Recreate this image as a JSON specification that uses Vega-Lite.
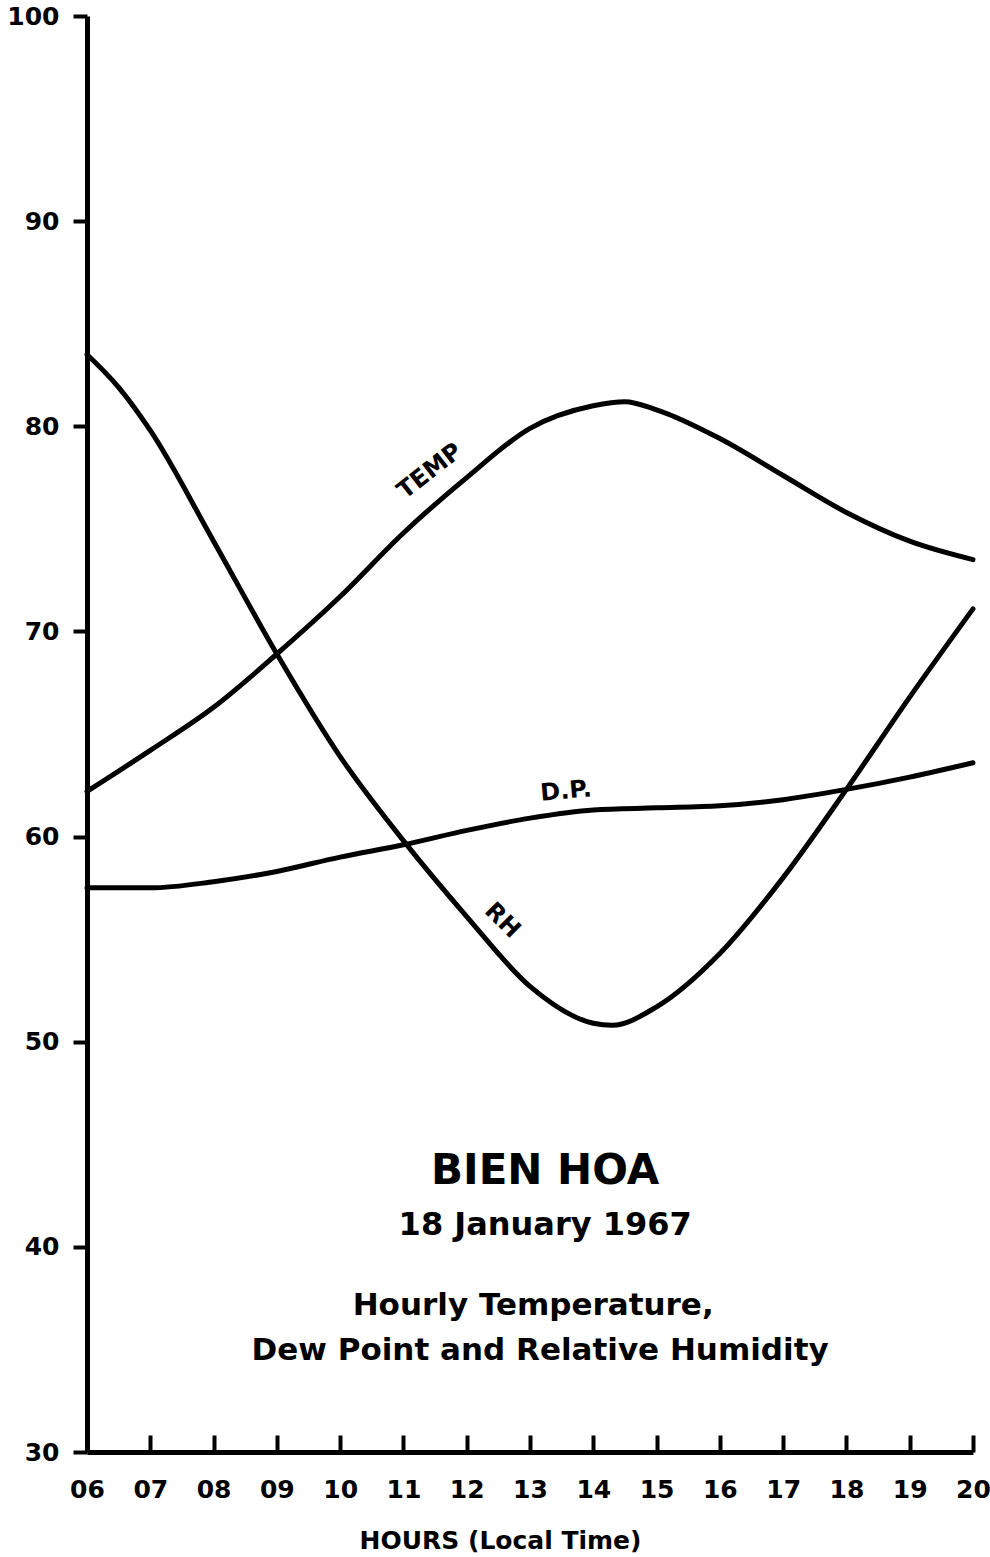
{
  "$schema": "https://vega.github.io/schema/vega-lite/v6.json",
  "width": 886,
  "height": 1436,
  "autosize": {"type": "none"},
  "padding": {"left": 87, "top": 16, "right": 17, "bottom": 105},
  "background": "white",
  "config": {
    "view": {"stroke": null},
    "font": "DejaVu Sans",
    "text": {"font": "DejaVu Sans", "fontWeight": "bold", "color": "black"}
  },
  "datasets": {
    "curves": [
      {"series": "TEMP", "hour": 6, "value": 62.2},
      {"series": "TEMP", "hour": 7, "value": 64.2},
      {"series": "TEMP", "hour": 8, "value": 66.3},
      {"series": "TEMP", "hour": 9, "value": 68.9},
      {"series": "TEMP", "hour": 10, "value": 71.7},
      {"series": "TEMP", "hour": 11, "value": 74.8},
      {"series": "TEMP", "hour": 12, "value": 77.5},
      {"series": "TEMP", "hour": 13, "value": 79.9},
      {"series": "TEMP", "hour": 14, "value": 81.0},
      {"series": "TEMP", "hour": 14.5, "value": 81.2},
      {"series": "TEMP", "hour": 15, "value": 80.8},
      {"series": "TEMP", "hour": 16, "value": 79.4},
      {"series": "TEMP", "hour": 17, "value": 77.6},
      {"series": "TEMP", "hour": 18, "value": 75.8},
      {"series": "TEMP", "hour": 19, "value": 74.4},
      {"series": "TEMP", "hour": 20, "value": 73.5},
      {"series": "DP", "hour": 6, "value": 57.5},
      {"series": "DP", "hour": 7, "value": 57.5},
      {"series": "DP", "hour": 8, "value": 57.8},
      {"series": "DP", "hour": 9, "value": 58.3},
      {"series": "DP", "hour": 10, "value": 59.0},
      {"series": "DP", "hour": 11, "value": 59.6},
      {"series": "DP", "hour": 12, "value": 60.3},
      {"series": "DP", "hour": 13, "value": 60.9},
      {"series": "DP", "hour": 14, "value": 61.3},
      {"series": "DP", "hour": 15, "value": 61.4},
      {"series": "DP", "hour": 16, "value": 61.5},
      {"series": "DP", "hour": 17, "value": 61.8},
      {"series": "DP", "hour": 18, "value": 62.3},
      {"series": "DP", "hour": 19, "value": 62.9},
      {"series": "DP", "hour": 20, "value": 63.6},
      {"series": "RH", "hour": 6, "value": 83.5},
      {"series": "RH", "hour": 6.5, "value": 81.9},
      {"series": "RH", "hour": 7, "value": 79.8},
      {"series": "RH", "hour": 8, "value": 74.4},
      {"series": "RH", "hour": 9, "value": 68.9},
      {"series": "RH", "hour": 10, "value": 63.9},
      {"series": "RH", "hour": 11, "value": 59.8},
      {"series": "RH", "hour": 12, "value": 56.1},
      {"series": "RH", "hour": 13, "value": 52.7},
      {"series": "RH", "hour": 14, "value": 50.9},
      {"series": "RH", "hour": 14.3, "value": 50.8},
      {"series": "RH", "hour": 15, "value": 51.7},
      {"series": "RH", "hour": 16, "value": 54.3},
      {"series": "RH", "hour": 17, "value": 58.0},
      {"series": "RH", "hour": 18, "value": 62.3},
      {"series": "RH", "hour": 19, "value": 66.8},
      {"series": "RH", "hour": 20, "value": 71.1}
    ],
    "notes": [
      {"key": "temp", "hour": 11.42, "value": 77.8, "label": "TEMP"},
      {"key": "dp", "hour": 13.57, "value": 62.2, "label": "D.P."},
      {"key": "rh", "hour": 12.56, "value": 55.9, "label": "RH"},
      {"key": "t1", "hour": 13.24, "value": 43.7, "label": "BIEN HOA"},
      {"key": "t2", "hour": 13.24, "value": 41.05, "label": "18 January 1967"},
      {"key": "t3", "hour": 13.05, "value": 37.1, "label": "Hourly Temperature,"},
      {"key": "t3", "hour": 13.16, "value": 34.9, "label": "Dew Point and Relative Humidity"}
    ]
  },
  "encoding": {
    "x": {
      "field": "hour", "type": "quantitative",
      "scale": {"domain": [6, 20], "nice": false, "zero": false},
      "axis": {
        "values": [6, 7, 8, 9, 10, 11, 12, 13, 14, 15, 16, 17, 18, 19, 20],
        "format": "02d",
        "grid": false,
        "domainColor": "black", "domainWidth": 5,
        "tickColor": "black", "tickWidth": 4, "tickSize": -17,
        "labelFont": "DejaVu Sans", "labelFontSize": 25, "labelFontWeight": "bold",
        "labelColor": "black", "labelPadding": 42,
        "labelFlush": false, "labelOverlap": false, "labelBound": false,
        "title": "HOURS (Local Time)",
        "titleFont": "DejaVu Sans", "titleFontSize": 25, "titleFontWeight": "bold",
        "titleColor": "black", "titleX": 413, "titleY": 96,
        "titleBaseline": "alphabetic", "titleAlign": "center", "titleAnchor": null
      }
    },
    "y": {
      "field": "value", "type": "quantitative",
      "scale": {"domain": [30, 100], "nice": false, "zero": false},
      "axis": {
        "values": [30, 40, 50, 60, 70, 80, 90, 100],
        "grid": false,
        "domainColor": "black", "domainWidth": 5,
        "tickColor": "black", "tickWidth": 4, "tickSize": 14,
        "labelFont": "DejaVu Sans", "labelFontSize": 25, "labelFontWeight": "bold",
        "labelColor": "black", "labelPadding": 14,
        "labelFlush": false, "labelOverlap": false, "labelBound": false,
        "title": null
      }
    }
  },
  "layer": [
    {
      "data": {"name": "curves"},
      "mark": {"type": "line", "interpolate": "monotone", "strokeWidth": 5, "color": "black", "strokeCap": "round"},
      "encoding": {"detail": {"field": "series", "type": "nominal"}}
    },
    {
      "data": {"name": "notes"},
      "transform": [{"filter": "datum.key === 'temp'"}],
      "mark": {"type": "text", "fontSize": 24, "angle": 322, "align": "center", "baseline": "middle"},
      "encoding": {"text": {"field": "label"}}
    },
    {
      "data": {"name": "notes"},
      "transform": [{"filter": "datum.key === 'dp'"}],
      "mark": {"type": "text", "fontSize": 24, "angle": 355, "align": "center", "baseline": "middle"},
      "encoding": {"text": {"field": "label"}}
    },
    {
      "data": {"name": "notes"},
      "transform": [{"filter": "datum.key === 'rh'"}],
      "mark": {"type": "text", "fontSize": 24, "angle": 45, "align": "center", "baseline": "middle"},
      "encoding": {"text": {"field": "label"}}
    },
    {
      "data": {"name": "notes"},
      "transform": [{"filter": "datum.key === 't1'"}],
      "mark": {"type": "text", "fontSize": 42, "align": "center", "baseline": "middle"},
      "encoding": {"text": {"field": "label"}}
    },
    {
      "data": {"name": "notes"},
      "transform": [{"filter": "datum.key === 't2'"}],
      "mark": {"type": "text", "fontSize": 32, "align": "center", "baseline": "middle"},
      "encoding": {"text": {"field": "label"}}
    },
    {
      "data": {"name": "notes"},
      "transform": [{"filter": "datum.key === 't3'"}],
      "mark": {"type": "text", "fontSize": 31, "align": "center", "baseline": "middle"},
      "encoding": {"text": {"field": "label"}}
    }
  ]
}
